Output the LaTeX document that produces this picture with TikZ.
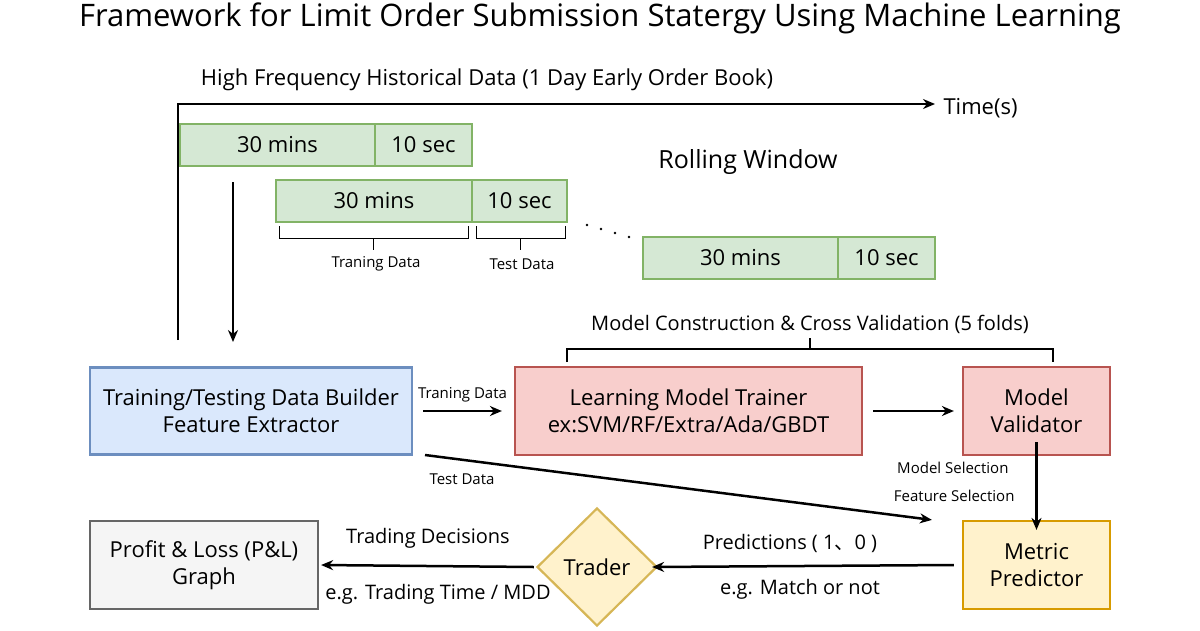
\documentclass[tikz,border=0pt]{standalone}
\usepackage{fontspec}
\setmainfont{Open Sans}
\newfontfamily\cjk{Noto Sans CJK SC}
\usetikzlibrary{shapes.geometric,arrows.meta}

\definecolor{grnfill}{HTML}{D5E8D4}\definecolor{grnline}{HTML}{82B366}
\definecolor{bluefill}{HTML}{DAE8FC}\definecolor{blueline}{HTML}{6C8EBF}
\definecolor{redfill}{HTML}{F8CECC}\definecolor{redline}{HTML}{B85450}
\definecolor{orgfill}{HTML}{FFE6CC}\definecolor{orgline}{HTML}{D79B00}
\definecolor{ylwfill}{HTML}{FFF2CC}\definecolor{ylwline}{HTML}{D6B656}
\definecolor{gryfill}{HTML}{F5F5F5}\definecolor{gryline}{HTML}{666666}

\tikzset{
  box/.style={draw,line width=2.2pt,align=center,font=\fontsize{22}{27}\selectfont,inner sep=2pt},
  green box/.style={box,fill=grnfill,draw=grnline,minimum height=42pt},
  blue box/.style={box,fill=bluefill,draw=blueline,minimum width=322pt,minimum height=87pt},
  red box/.style={box,fill=redfill,draw=redline},
  orange box/.style={box,fill=ylwfill,draw=orgline,minimum width=147pt,minimum height=88pt},
  gray box/.style={box,fill=gryfill,draw=gryline,minimum width=228pt,minimum height=88pt},
  arr/.style={-{Stealth[length=12pt,width=10pt]},line width=2.5pt},
  lbl/.style={font=\fontsize{20}{24}\selectfont},
  small/.style={font=\fontsize{15}{18}\selectfont},
}

\begin{document}
\begin{tikzpicture}[x=1pt,y=-1pt]
  \useasboundingbox (0,0) rectangle (1200,630);

  %タイトル
  \node[font=\fontsize{31}{36}\selectfont] (title) at (600,18) {Framework for Limit Order Submission Statergy Using Machine Learning};
  \node[font=\fontsize{22}{26}\selectfont] (hist) at (487,80) {High Frequency Historical Data (1 Day Early Order Book)};

  %時間軸
  \coordinate (t0) at (178,340);
  \coordinate (t1) at (178,104);
  \coordinate (t2) at (935,104);
  \draw[arr] (t0)--(t1)--(t2);
  \node[font=\fontsize{22}{26}\selectfont,anchor=west] (time) at (940,108) {Time(s)};

  %ウィンドウ
  \node[green box,minimum width=195pt] (w1a) at (277.5,145) {30 mins};
  \node[green box,minimum width=97pt]  (w1b) at (423.5,145) {10 sec};
  \node[green box,minimum width=196pt] (w2a) at (374,201) {30 mins};
  \node[green box,minimum width=95pt]  (w2b) at (519.5,201) {10 sec};
  \node[green box,minimum width=195pt] (w3a) at (740.5,258) {30 mins};
  \node[green box,minimum width=97pt]  (w3b) at (886.5,258) {10 sec};
  \node[font=\fontsize{25}{30}\selectfont] (roll) at (748,162) {Rolling Window};

  %括弧
  \draw[line width=1pt] (279,226)--(279,238)--(468,238)--(468,226);
  \draw[line width=1pt] (373.5,238)--(373.5,250);
  \draw[line width=1pt] (476,226)--(476,238)--(565,238)--(565,226);
  \draw[line width=1pt] (520.5,238)--(520.5,250);
  \node[small] (trn) at (376,264) {Traning Data};
  \node[small] (tst) at (522,264) {Test Data};
  \foreach \x/\y in {587/225,601/229,615/233,629/237}
    \fill (\x,\y) circle (1.4pt);

  \coordinate (d0) at (233,182);
  \coordinate (d1) at (233,342);
  \draw[arr] (d0)--(d1);

  %ボックス
  \node[blue box] (builder) at (251,411) {Training/Testing Data Builder\\Feature Extractor};
  \node[red box,minimum width=347pt,minimum height=88pt] (trainer) at (688.5,411) {Learning Model Trainer\\ex:SVM/RF/Extra/Ada/GBDT};
  \node[red box,minimum width=147pt,minimum height=88pt] (valid) at (1036.5,411) {Model\\Validator};
  \node[orange box] (metric) at (1036.5,565) {Metric\\Predictor};
  \node[diamond,draw=ylwline,fill=ylwfill,line width=2.2pt,minimum width=120pt,minimum height=118pt,inner sep=0pt,font=\fontsize{22}{26}\selectfont] (trader) at (597,567) {Trader};
  \node[gray box] (pnl) at (204,565) {Profit \& Loss (P\&L)\\Graph};

  %クロスバリデーション
  \draw[line width=2.2pt] (567,362)--(567,349)--(1053,349)--(1053,362);
  \draw[line width=2.2pt] (810,349)--(810,338);
  \node[lbl] (cv) at (810,324) {Model Construction \& Cross Validation (5 folds)};

  %矢印
  \draw[arr] ([xshift=10pt]builder.east) -- node[above,small,yshift=4pt] {Traning Data} ([xshift=-12pt]trainer.west);
  \draw[arr] ([xshift=10pt]trainer.east) -- ([xshift=-8pt]valid.west);
  \draw[arr] ([yshift=14pt]valid.south) -- ([yshift=-10pt]metric.north);
  \node[small,anchor=east] (msel) at (1012,468) {Model Selection};
  \node[small,anchor=east] (fsel) at (1018,496) {Feature Selection};
  \draw[arr] (425,455) -- ([xshift=-30pt]metric.north west);
  \node[small] (tstd) at (462,479) {Test Data};
  \draw[arr] ([xshift=-8pt]metric.west) -- ([xshift=-6pt]trader.east);
  \node[lbl] (pred) at (790,543) {Predictions ( 1{\cjk 、}0 )};
  \node[lbl] (match) at (800,589) {e.g. Match or not};
  \draw[arr] ([xshift=-2pt]trader.west) -- ([xshift=2pt]pnl.east);
  \node[lbl] (dec) at (428,538) {Trading Decisions};
  \node[lbl] (mdd) at (438,594) {e.g. Trading Time / MDD};
\end{tikzpicture}
\end{document}
